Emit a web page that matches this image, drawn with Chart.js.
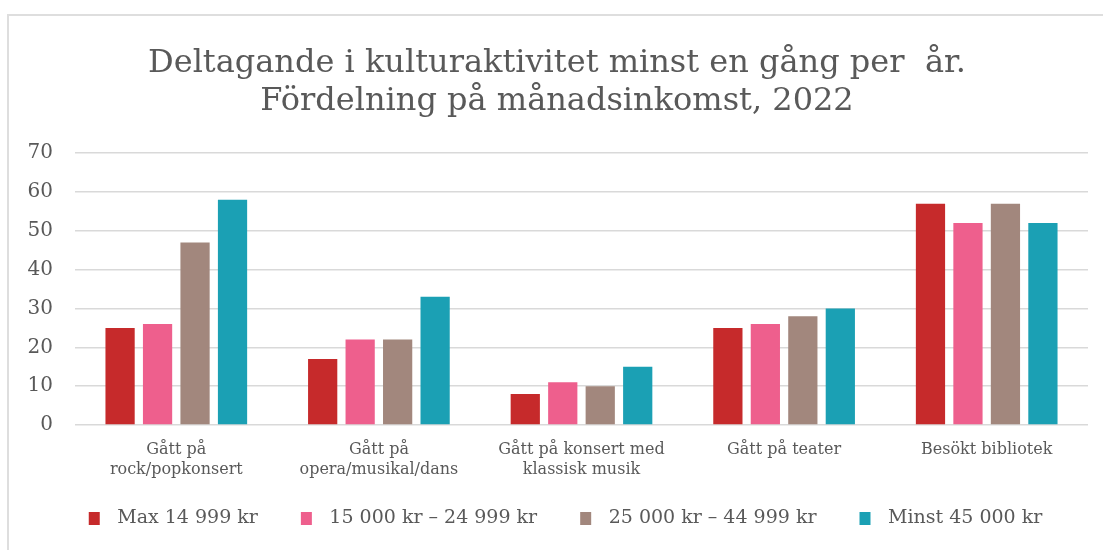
<!DOCTYPE html>
<html>
<head>
<meta charset="utf-8">
<script src="https://cdn.jsdelivr.net/npm/chart.js@4"></script>
<style>
  body { margin: 0; background: #fff; overflow: hidden; }
  #frame { position: absolute; left: 7px; top: 14px; width: 1120px; height: 560px; border: 2px solid #dedede; }
  #wrap { position: absolute; left: 0; top: 0; width: 1103px; height: 550px; }
</style>
</head>
<body>
<div id="frame"></div>
<div id="wrap"><canvas id="chart"></canvas></div>
<script>
const categories = [
    ['Gått på', 'rock/popkonsert'],
    ['Gått på', 'opera/musikal/dans'],
    ['Gått på konsert med', 'klassisk musik'],
    'Gått på teater',
    'Besökt bibliotek'
];
const seriesNames = ['Max 14 999 kr', '15 000 kr – 24 999 kr', '25 000 kr – 44 999 kr', 'Minst 45 000 kr'];
const maxIncome = [25, 17, 8, 25, 57];
const lowMidIncome = [26, 22, 11, 26, 52];
const highMidIncome = [47, 22, 10, 28, 57];
const minIncome = [58, 33, 15, 30, 52];
const colors = ['#c62a2b', '#ee5f8d', '#a2877d', '#1ba0b4'];

const grey = '#595959';
const serif = "'DejaVu Serif', 'Liberation Serif', serif";

const values = [maxIncome, lowMidIncome, highMidIncome, minIncome];

// legend square inside a wider transparent canvas, to get the spacing of the original
function legendBox(color) {
    const c = document.createElement('canvas');
    c.width = 36;
    c.height = 13;
    const ctx = c.getContext('2d');
    ctx.fillStyle = color;
    ctx.fillRect(17, 0, 11, 13);
    return c;
}

new Chart(document.getElementById('chart'), {
    type: 'bar',
    data: {
        labels: categories,
        datasets: seriesNames.map((name, i) => ({
            label: name,
            data: values[i],
            backgroundColor: colors[i],
            categoryPercentage: 0.74,
            barPercentage: 0.78
        }))
    },
    options: {
        responsive: true,
        maintainAspectRatio: false,
        animation: false,
        layout: { padding: { left: 26, right: 15, top: 45, bottom: 12 } },
        scales: {
            y: {
                min: 0,
                max: 70,
                ticks: {
                    stepSize: 10,
                    color: grey,
                    padding: 22,
                    font: { family: serif, size: 20 }
                },
                grid: { color: '#d9d9d9', lineWidth: 1.5, drawTicks: false },
                border: { display: false },
                // keep the axis narrow: labels plus their gap only
                afterFit: axis => { axis.width = 49; }
            },
            x: {
                ticks: {
                    color: grey,
                    padding: 15,
                    maxRotation: 0,
                    font: { family: serif, size: 16, lineHeight: 1.25 }
                },
                grid: { display: false, drawTicks: false },
                border: { display: false },
                // room for two label lines only, so the plot reaches down like the original
                afterFit: axis => { axis.height = 58; }
            }
        },
        plugins: {
            title: {
                display: true,
                text: ['Deltagande i kulturaktivitet minst en gång per  år.', 'Fördelning på månadsinkomst, 2022'],
                color: grey,
                font: { family: serif, size: 32, weight: 'normal', lineHeight: 1.19 },
                padding: { top: 0, bottom: 32 }
            },
            legend: {
                position: 'bottom',
                labels: {
                    color: grey,
                    usePointStyle: true,
                    pointStyleWidth: 36,
                    boxHeight: 13,
                    padding: 26,
                    font: { family: serif, size: 19 },
                    generateLabels: () => seriesNames.map((name, i) => ({
                        text: name,
                        fillStyle: colors[i],
                        strokeStyle: colors[i],
                        lineWidth: 0,
                        pointStyle: legendBox(colors[i]),
                        fontColor: grey,
                        datasetIndex: i
                    }))
                }
            },
            tooltip: { enabled: false }
        }
    }
});
</script>
</body>
</html>
